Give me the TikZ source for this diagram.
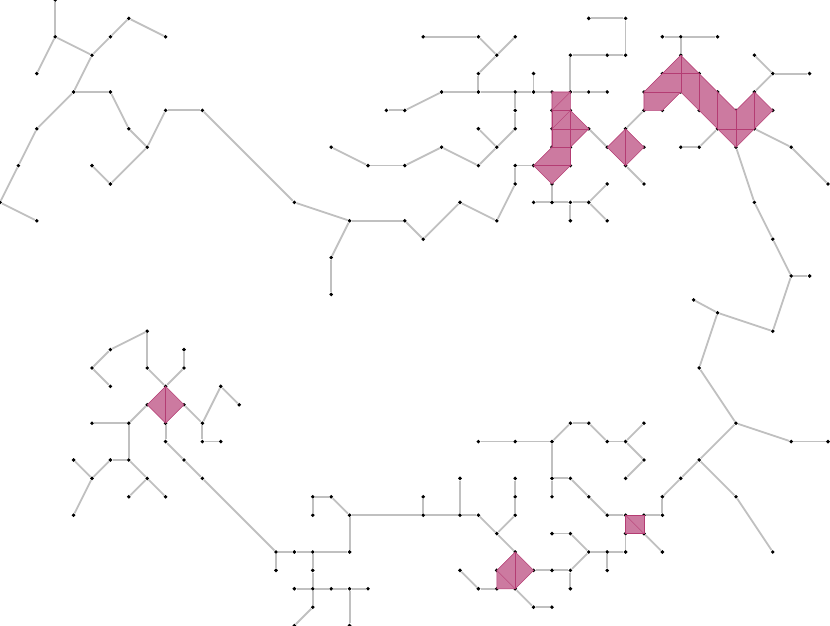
\documentclass[tikz,border=0pt]{standalone}
\usepackage{tikz}
\definecolor{pinkfill}{RGB}{204,122,160}
\definecolor{pinkline}{RGB}{180,60,115}
\definecolor{linkgray}{RGB}{192,192,192}
\begin{document}
\begin{tikzpicture}[
                x=0.5cm, y=-0.5cm,
                dot/.style={circle, fill=black, inner sep=0pt, minimum size=3pt},
                link/.style={draw=linkgray, line width=1.4pt},
                cell/.style={fill=pinkfill, draw=pinkline, line width=0.4pt},
                inner/.style={draw=pinkline, line width=0.3pt},
            ]
            \useasboundingbox (0,0) rectangle (45.11,34.02);

            % Nodes on the grid
            \foreach \i/\j in {3/0,3/2,5/3,2/4,6/2,7/1,9/2,4/5,6/5,7/7,8/8,2/7,1/9,0/11,2/12,6/10,5/9,9/6,11/6,16/11,19/12,22/12,18/14,18/16,23/13,25/11,27/12,28/10,28/9,29/9,
                21/6,22/6,24/5,26/5,28/5,29/5,30/5,31/5,32/5,33/5,29/4,26/4,27/3,26/2,23/2,28/2,31/3,33/3,34/3,34/1,32/1,28/6,28/7,27/8,26/7,26/9,24/8,22/9,20/9,18/8,
                30/6,31/6,30/7,32/7,30/8,31/8,31/9,30/10,30/11,29/11,31/11,32/11,31/12,33/10,33/12,33/8,34/7,35/8,34/9,35/10,35/6,35/5,36/4,36/6,37/3,37/5,38/4,38/6,39/5,39/7,40/6,40/8,41/5,41/7,42/6,
                37/2,36/2,39/2,42/4,44/4,41/3,38/8,37/8,43/8,45/10,41/11,42/13,43/15,44/15,42/18,39/17,38/20,40/23,43/24,45/24,38/25,37/26,36/27,36/28,40/27,42/30,
                35/28,34/28,35/29,34/29,36/30,33/28,32/27,31/26,30/26,30/27,30/24,31/23,32/23,33/24,34/24,35/23,35/25,34/26,28/24,26/24,34/30,33/30,32/30,31/29,30/29,33/31,31/31,30/31,29/31,31/32,
                28/30,28/32,27/32,27/31,26/32,25/31,29/33,30/33,27/29,26/28,25/28,23/28,19/28,23/27,25/26,28/28,28/27,28/26,
                8/18,6/19,5/20,6/21,8/20,9/21,10/20,10/19,10/22,9/23,8/22,11/23,12/21,13/22,11/24,12/24,7/23,5/23,7/25,6/25,5/26,4/25,4/28,8/26,9/27,7/27,9/24,10/25,11/26,
                15/30,15/31,16/30,17/30,19/30,18/27,17/27,17/28,17/31,17/32,17/33,16/34,16/32,18/32,19/32,20/32,19/34}
                \node[dot] (n\i-\j) at (\i,\j) {};
            \node[dot] (na) at (37.7,16.3) {};

            % Shaded cells
            \path[cell] (n30-5.center) -- (n31-5.center) -- (n31-6.center) -- (n32-7.center) -- (n31-8.center) -- (n31-9.center) -- (n30-10.center) -- (n29-9.center) -- (n30-8.center) -- cycle;
            \path[cell] (n33-8.center) -- (n34-7.center) -- (n35-8.center) -- (n34-9.center) -- cycle;
            \path[cell] (n35-5.center) -- (n36-4.center) -- (n37-3.center) -- (n38-4.center) -- (n39-5.center) -- (n40-6.center) -- (n41-5.center) -- (n42-6.center) -- (n41-7.center) -- (n40-8.center) -- (n39-7.center) -- (n38-6.center) -- (n37-5.center) -- (n36-6.center) -- (n35-6.center) -- cycle;
            \path[cell] (n9-21.center) -- (n10-22.center) -- (n9-23.center) -- (n8-22.center) -- cycle;
            \path[cell] (n34-28.center) -- (n35-28.center) -- (n35-29.center) -- (n34-29.center) -- cycle;
            \path[cell] (n28-30.center) -- (n29-31.center) -- (n28-32.center) -- (n27-32.center) -- (n27-31.center) -- cycle;
            \foreach \a/\b in {30-6/31-5,30-6/31-6,31-6/30-7,30-7/32-7,30-8/31-8,29-9/31-9,31-6/31-9,30-6/30-8,
                34-7/34-9,36-4/38-4,35-5/37-5,38-4/38-6,39-5/39-7,39-7/41-7,41-5/41-7,37-3/37-5,40-6/40-8,
                9-21/9-23,34-28/35-29,28-30/28-32,27-31/28-32}
                \draw[inner] (n\a.center) -- (n\b.center);

            % Connections
            \foreach \a/\b in {3-0/3-2,3-2/5-3,3-2/2-4,5-3/6-2,6-2/7-1,7-1/9-2,5-3/4-5,4-5/6-5,6-5/7-7,7-7/8-8,4-5/2-7,2-7/1-9,1-9/0-11,0-11/2-12,8-8/6-10,6-10/5-9,8-8/9-6,9-6/11-6,11-6/16-11,16-11/19-12,19-12/22-12,19-12/18-14,18-14/18-16,22-12/23-13,23-13/25-11,25-11/27-12,27-12/28-10,28-10/28-9,28-9/29-9,
                21-6/22-6,22-6/24-5,24-5/26-5,26-5/28-5,28-5/29-5,29-5/30-5,31-5/32-5,32-5/33-5,29-4/29-5,26-5/26-4,26-4/27-3,27-3/26-2,26-2/23-2,27-3/28-2,31-5/31-3,31-3/33-3,33-3/34-3,34-3/34-1,34-1/32-1,
                28-5/28-6,28-6/28-7,28-7/27-8,26-7/27-8,27-8/26-9,26-9/24-8,24-8/22-9,22-9/20-9,20-9/18-8,
                30-10/30-11,29-11/30-11,30-11/31-11,31-11/32-11,31-11/31-12,32-11/33-10,32-11/33-12,32-7/33-8,34-9/35-10,34-7/35-6,
                37-3/37-2,36-2/37-2,37-2/39-2,41-5/42-4,42-4/44-4,42-4/41-3,39-7/38-8,38-8/37-8,41-7/43-8,43-8/45-10,40-8/41-11,41-11/42-13,42-13/43-15,43-15/44-15,43-15/42-18,42-18/39-17,39-17/38-20,
                38-20/40-23,40-23/43-24,43-24/45-24,40-23/38-25,38-25/37-26,37-26/36-27,36-27/36-28,38-25/40-27,40-27/42-30,36-28/35-28,35-29/36-30,34-28/33-28,33-28/32-27,32-27/31-26,31-26/30-26,30-26/30-27,30-26/30-24,
                30-24/31-23,31-23/32-23,32-23/33-24,33-24/34-24,34-24/35-23,34-24/35-25,35-25/34-26,30-24/28-24,28-24/26-24,34-29/34-30,34-30/33-30,33-30/32-30,32-30/31-29,31-29/30-29,33-30/33-31,32-30/31-31,31-31/30-31,30-31/29-31,31-31/31-32,
                27-32/26-32,26-32/25-31,28-32/29-33,29-33/30-33,28-30/27-29,27-29/26-28,26-28/25-28,25-28/23-28,23-28/19-28,23-28/23-27,25-28/25-26,27-29/28-28,28-28/28-27,28-27/28-26,
                8-18/6-19,6-19/5-20,5-20/6-21,8-18/8-20,8-20/9-21,9-21/10-20,10-20/10-19,10-22/11-23,11-23/12-21,12-21/13-22,11-23/11-24,11-24/12-24,8-22/7-23,7-23/5-23,7-23/7-25,7-25/6-25,6-25/5-26,5-26/4-25,5-26/4-28,7-25/8-26,8-26/9-27,8-26/7-27,
                9-23/9-24,9-24/10-25,10-25/11-26,11-26/15-30,15-30/15-31,15-30/16-30,16-30/17-30,17-30/19-30,19-30/19-28,19-28/18-27,18-27/17-27,17-27/17-28,17-30/17-31,17-31/17-32,17-32/17-33,17-33/16-34,16-32/17-32,17-32/18-32,18-32/19-32,19-32/20-32,19-32/19-34}
                \draw[link] (n\a) -- (n\b);
            \draw[link] (n39-17) -- (na);

            \end{tikzpicture}
\end{document}
